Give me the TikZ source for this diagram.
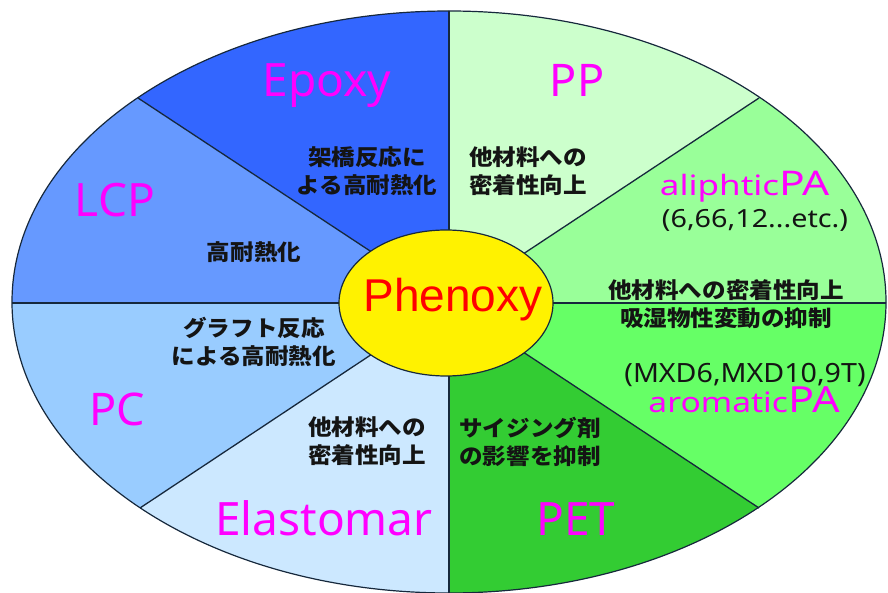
\documentclass[tikz,border=0pt]{standalone}
\usepackage{fontspec}
\usepackage{graphicx}
\setmainfont{Noto Sans}
\newfontfamily\jpfont{Noto Sans CJK JP}
\newfontfamily\arialfont{Liberation Sans}
\usetikzlibrary{shapes.geometric}
\definecolor{cEpoxy}{RGB}{51,102,255}
\definecolor{cLCP}{RGB}{102,153,255}
\definecolor{cPC}{RGB}{153,204,255}
\definecolor{cElast}{RGB}{204,232,255}
\definecolor{cPP}{RGB}{204,255,204}
\definecolor{cAli}{RGB}{153,255,153}
\definecolor{cAro}{RGB}{102,255,102}
\definecolor{cPET}{RGB}{51,204,51}
\definecolor{cLine}{RGB}{22,40,60}
\definecolor{cMag}{RGB}{255,0,255}
\definecolor{cTxt}{RGB}{20,20,20}
\newcommand\jx[1]{\scalebox{1.07}[1]{#1}}
\newcommand\sx[2]{\scalebox{#1}[1]{#2}}
\tikzset{
  sepline/.style={draw=cLine, line width=1.3pt},
  biglabel/.style={anchor=base, inner sep=0pt, text=cMag, font=\fontsize{46}{50}\selectfont},
  jptext/.style={anchor=center, inner sep=0pt, align=center, text=cTxt, font=\jpfont\bfseries\fontsize{22}{28}\selectfont},
  numtext/.style={anchor=base, inner sep=0pt, text=cTxt},
}
\begin{document}
\begin{tikzpicture}[x=1pt,y=-1pt]
\useasboundingbox (0,0) rectangle (888,593);
\coordinate (C) at (449,303);
\coordinate (UL) at (138,98);
\coordinate (UR) at (759,98);
\coordinate (LL) at (140,508);
\coordinate (LR) at (759,508);
\coordinate (T) at (449,0);
\coordinate (B) at (449,600);
\coordinate (L) at (0,303);
\coordinate (R) at (888,303);
\begin{scope}
  \clip (449,302) ellipse [x radius=437, y radius=291];
  \fill[cEpoxy] (449,303) -- (-173,-107) -- (449,-107) -- cycle;
  \fill[cLCP] (449,303) -- (-173,-107) -- (-173,303) -- cycle;
  \fill[cPC] (449,303) -- (-173,303) -- (-169,713) -- cycle;
  \fill[cElast] (449,303) -- (-169,713) -- (449,713) -- cycle;
  \fill[cPP] (449,303) -- (449,-107) -- (1069,-107) -- cycle;
  \fill[cAli] (449,303) -- (1069,-107) -- (1069,303) -- cycle;
  \fill[cAro] (449,303) -- (1069,303) -- (1069,713) -- cycle;
  \fill[cPET] (449,303) -- (1069,713) -- (449,713) -- cycle;
  \draw[sepline] (T) -- (B);
  \draw[sepline, line width=1.8pt] (L) -- (R);
\end{scope}
\draw[sepline] (C) -- (UL);
\draw[sepline] (C) -- (UR);
\draw[sepline] (C) -- (LL);
\draw[sepline] (C) -- (LR);
\draw[draw=cLine, line width=1.2pt] (449,302) ellipse [x radius=437, y radius=291];
% centre
\node (core) [ellipse, draw=cLine, line width=1.2pt, fill=yellow, minimum width=214pt, minimum height=146pt, inner sep=0pt] at (446,303) {};
\node (phen) [anchor=base, inner sep=0pt, text=red, font=\arialfont\fontsize{46}{50}\selectfont] at (453,312) {Phenoxy};
% big labels
\node (epoxy) [biglabel] at (327,97) {Epoxy};
\node (lcp) [biglabel] at (115,217) {LCP};
\node (pc) [biglabel, font=\fontsize{45}{50}\selectfont] at (117,425) {PC};
\node (elast) [biglabel] at (324,535) {Elastomar};
\node (pp) [biglabel, font=\fontsize{45}{50}\selectfont] at (577,97) {PP};
\node (pet) [biglabel] at (576,535) {PET};
\node (ali) [biglabel, font=\fontsize{28}{30}\selectfont] at (745,196) {\sx{1.25}{aliphtic{\fontsize{34}{36}\selectfont PA}}};
\node (alinum) [numtext, font=\fontsize{25}{28}\selectfont] at (755,228) {\sx{1.15}{(6,66,12...etc.)}};
\node (aro) [biglabel, font=\fontsize{28}{30}\selectfont] at (744,412) {\sx{1.2}{aromatic{\fontsize{36}{38}\selectfont PA}}};
\node (aronum) [numtext, font=\fontsize{26.5}{28}\selectfont] at (745,382) {\sx{1.08}{(MXD6,MXD10,9T)}};
% japanese notes
\node (jEpoxy) [jptext] at (367,171) {\jx{架橋反応に}\\\jx{よる高耐熱化}};
\node (jPP) [jptext] at (528,171) {\jx{他材料への}\\\jx{密着性向上}};
\node (jLCP) [jptext] at (254,252) {\jx{高耐熱化}};
\node (jAli) [jptext] at (726,290) {\jx{他材料への密着性向上}};
\node (jAro) [jptext] at (726,318) {\jx{吸湿物性変動の抑制}};
\node (jPC) [jptext] at (254,342) {\jx{グラフト反応}\\\jx{による高耐熱化}};
\node (jElast) [jptext] at (367,441) {\jx{他材料への}\\\jx{密着性向上}};
\node (jPET) [jptext, align=left] at (530,442) {\jx{サイジング剤}\\\jx{の影響を抑制}};
\end{tikzpicture}
\end{document}
